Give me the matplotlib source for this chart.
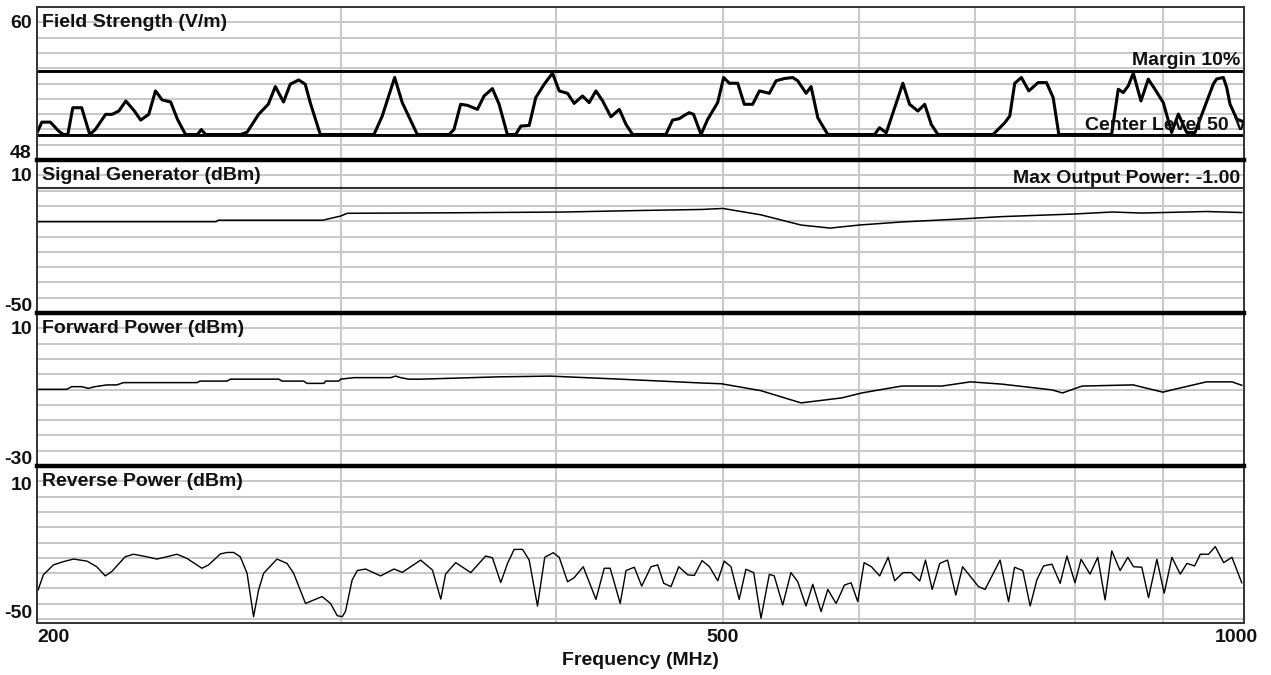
import numpy as np
import matplotlib.pyplot as plt
from matplotlib.transforms import offset_copy, blended_transform_factory

plt.rcParams['font.family'] = ['Liberation Sans', 'DejaVu Sans']
plt.rcParams['font.weight'] = 'bold'
plt.rcParams['font.size'] = 14

# ---- sweep data (frequency in MHz) ----
field_freq = [200.0, 201.3, 203.6, 205.9, 207.2, 208.4, 209.8, 212.3, 214.6, 216.2,
              219.2, 221.1, 223.1, 225.2, 227.8, 229.7, 232.2, 234.3, 236.4, 239.1,
              241.3, 243.9, 247.8, 249.1, 250.5, 262.5, 264.8, 268.9, 272.4, 275.0,
              278.0, 280.5, 283.7, 286.2, 288.1, 292.0, 313.7, 317.2, 322.5, 325.8,
              332.4, 346.8, 349.1, 352.2, 355.4, 360.2, 363.4, 367.5, 370.8, 374.9,
              379.1, 381.7, 386.0, 389.4, 393.8, 398.2, 401.8, 406.3, 409.9, 414.5,
              418.2, 422.0, 425.8, 430.5, 435.4, 439.3, 443.2, 463.3, 467.5, 471.7,
              474.9, 478.0, 480.8, 485.6, 489.9, 496.5, 500.5, 504.3, 510.0, 514.5,
              520.3, 525.0, 532.0, 536.8, 542.8, 548.9, 552.6, 558.8, 562.5, 567.6,
              575.2, 612.3, 616.4, 621.9, 635.9, 641.6, 648.8, 654.7, 660.5, 666.4,
              717.3, 728.6, 733.5, 738.4, 745.0, 752.4, 761.8, 770.4, 777.3, 783.2,
              840.4, 847.9, 853.6, 859.3, 865.1, 874.0, 882.6, 890.5, 900.5, 910.6,
              918.8, 929.1, 939.5, 962.8, 967.1, 975.8, 980.1, 984.5, 993.4, 1000.0]
field_vm = [50.13, 50.97, 50.97, 50.26, 50.0, 50.0, 52.10, 52.10, 50.0, 50.39,
            51.58, 51.58, 51.84, 52.63, 51.84, 51.13, 51.58, 53.42, 52.71, 52.55,
            51.18, 50.0, 50.0, 50.39, 50.0, 50.0, 50.18, 51.58, 52.37, 53.76,
            52.55, 53.94, 54.28, 53.94, 52.50, 50.0, 50.0, 51.45, 54.47, 52.50,
            50.0, 50.0, 50.39, 52.37, 52.29, 51.97, 53.02, 53.60, 52.37, 50.0,
            50.0, 50.66, 50.71, 52.89, 53.94, 54.81, 53.42, 53.23, 52.44, 53.02,
            52.50, 53.42, 52.63, 51.39, 51.97, 50.79, 50.0, 50.0, 51.13, 51.24,
            51.50, 51.71, 51.58, 50.0, 51.18, 52.50, 54.47, 54.02, 54.02, 52.37,
            52.37, 53.42, 53.23, 54.21, 54.39, 54.47, 54.21, 53.23, 53.76, 51.31,
            50.0, 50.0, 50.53, 50.13, 54.02, 52.37, 51.84, 52.37, 50.79, 50.0,
            50.0, 50.92, 51.45, 54.02, 54.47, 53.42, 54.07, 54.07, 52.89, 50.0,
            50.0, 53.55, 53.29, 53.81, 54.81, 52.63, 54.34, 53.55, 52.50, 50.16,
            51.60, 50.16, 50.16, 53.97, 54.36, 54.47, 53.68, 52.37, 51.21, 51.05]

siggen_freq = [200, 254, 254.8, 293, 296, 300, 302.7, 348, 404, 448, 486, 500,
               526, 555, 577, 600, 635, 688, 726, 798, 841, 875, 954, 1000]
siggen_dbm = [-14.2, -14.2, -13.6, -13.6, -12.9, -12.0, -10.9, -10.7, -10.4, -9.8,
              -9.4, -9.0, -11.5, -15.5, -16.7, -15.5, -14.3, -13.1, -12.2, -11.2,
              -10.4, -10.8, -10.2, -10.6]

fwd_freq = [200, 208.1, 209.5, 212.3, 214.2, 216.1, 219.6, 222.5, 224.5, 247.6,
            248.7, 257.8, 258.9, 276.2, 277.5, 285.6, 286.9, 293.4, 294.1, 299.3,
            300, 305.4, 320.8, 322.9, 325.1, 328.7, 333.9, 370, 397, 436, 486, 499,
            526, 555, 586, 602, 618, 635, 670, 696, 726, 776, 787, 808, 865, 900,
            911, 954, 987, 1000]
fwd_dbm = [-9.95, -9.95, -9.26, -9.26, -9.7, -9.26, -8.8, -8.8, -8.2, -8.2,
           -7.8, -7.8, -7.3, -7.3, -7.8, -7.8, -8.4, -8.4, -7.8, -7.8,
           -7.3, -6.9, -6.9, -6.5, -6.9, -7.3, -7.3, -6.7, -6.5, -7.3, -8.3, -8.5,
           -10.3, -13.5, -12.2, -10.9, -10.0, -9.1, -9.1, -8.0, -8.6, -10.1, -10.9,
           -9.1, -8.8, -10.7, -10.1, -8.0, -8.0, -8.9]

rev_freq = [200.3, 201.7, 204.4, 207.2, 210.0, 213.8, 216.6, 219.1, 221.0, 225.0,
            227.5, 231.6, 234.7, 237.9, 241.1, 244.3, 249.3, 251.5, 255.5, 257.8,
            260.1, 262.4, 264.8, 267.1, 268.9, 270.7, 275.6, 279.3, 281.8, 286.3,
            292.7, 296.0, 298.7, 300.7, 302.0, 304.7, 306.8, 310.2, 316.5, 322.2,
            325.8, 333.9, 339.2, 343.0, 345.2, 349.9, 357.0, 364.2, 367.5, 371.6,
            375.0, 378.3, 382.6, 386.0, 390.3, 394.1, 398.6, 401.8, 406.3, 409.9,
            414.9, 422.0, 426.7, 430.1, 435.9, 439.3, 444.2, 448.6, 454.2, 458.3,
            462.0, 466.5, 471.4, 477.1, 481.3, 486.3, 491.1, 496.6, 500.9, 505.4,
            511.0, 515.6, 521.0, 526.1, 532.0, 535.5, 541.6, 547.6, 552.6, 558.7,
            563.8, 570.1, 575.2, 581.6, 585.5, 588.1, 593.4, 598.7, 603.8, 609.7,
            616.5, 623.5, 629.0, 636.1, 643.2, 650.4, 655.4, 661.3, 668.0, 675.0,
            682.5, 688.7, 703.5, 709.7, 724.1, 732.3, 738.2, 746.4, 753.8, 760.5,
            767.4, 776.0, 784.6, 791.7, 800.3, 806.8, 816.5, 825.0, 833.1, 840.6,
            850.0, 858.8, 865.4, 875.0, 882.9, 892.8, 901.6, 910.9, 921.1, 929.4,
            939.0, 946.1, 956.7, 965.2, 976.1, 987.0, 1000.0]
rev_dbm = [-38.6, -32.7, -28.8, -27.5, -26.5, -27.3, -29.5, -33.1, -31.4, -25.6,
           -24.6, -25.6, -26.5, -25.6, -24.6, -26.2, -30.1, -28.8, -24.5, -23.9,
           -23.9, -25.6, -32.1, -49.1, -38.6, -32.1, -26.5, -28.2, -32.1, -43.9,
           -41.2, -43.9, -48.7, -49.1, -47.0, -34.7, -31.0, -30.4, -33.1, -30.4,
           -31.7, -26.9, -30.8, -42.2, -32.4, -27.9, -31.8, -25.3, -26.0, -35.7,
           -28.2, -22.7, -22.7, -26.9, -44.9, -25.8, -24.0, -25.8, -35.4, -33.8,
           -29.5, -42.3, -30.1, -30.1, -43.9, -31.0, -29.7, -37.1, -29.5, -28.8,
           -36.0, -37.3, -29.5, -32.7, -32.9, -27.1, -29.5, -35.0, -27.3, -29.5,
           -42.3, -30.5, -31.8, -49.7, -32.5, -33.1, -44.5, -31.8, -35.4, -44.9,
           -36.4, -47.1, -38.4, -43.9, -39.7, -36.7, -35.8, -43.2, -27.9, -29.5,
           -33.1, -25.8, -35.0, -31.8, -31.8, -35.1, -26.9, -38.4, -28.2, -26.9,
           -40.6, -29.5, -37.3, -38.4, -26.9, -43.2, -29.7, -31.0, -44.9, -34.7,
           -29.2, -28.5, -36.0, -25.3, -35.8, -26.6, -32.4, -25.8, -42.5, -23.3,
           -31.0, -25.8, -29.5, -29.7, -41.6, -26.6, -39.9, -25.8, -32.4, -28.2,
           -29.2, -24.6, -24.6, -21.6, -27.9, -25.8, -35.8]

center_level = 50.0
margin_level = 55.0
max_output = -1.00

W, H = 1271, 675
LEFT, RIGHT = 37, 1244
GRID = '#c8c8c8'
FRAME = '#333333'
TXT = '#111111'

fig = plt.figure(figsize=(W / 100, H / 100), dpi=100)

# (title, low, high, top px, bottom px, top label, bottom label)
panels = [
    ('Field Strength (V/m)', 48, 60, 7, 160, '60', '48'),
    ('Signal Generator (dBm)', -50, 10, 160, 313, '10', '-50'),
    ('Forward Power (dBm)', -30, 10, 313, 466, '10', '-30'),
    ('Reverse Power (dBm)', -50, 10, 466, 623, '10', '-50'),
]

axes = []
for i, (title, lo, hi, top, bot, tlab, blab) in enumerate(panels):
    ax = fig.add_axes([LEFT / W, 1 - bot / H, (RIGHT - LEFT) / W, (bot - top) / H])
    ax.set_xscale('log')
    ax.set_xlim(200, 1003)
    if i == 3:
        ax.set_ylim(lo - 4 / 153 * (hi - lo), hi)
    else:
        ax.set_ylim(lo, hi)
    ax.set_yticks(np.linspace(lo, hi, 11))
    ax.set_xticks([300, 400, 500, 600, 700, 800, 900])
    ax.xaxis.set_minor_locator(plt.NullLocator())
    ax.tick_params(length=0, labelleft=False, labelbottom=False)
    ax.grid(True, color=GRID, lw=1.4)
    ax.set_axisbelow(True)
    for s in ax.spines.values():
        s.set_color(FRAME)
        s.set_linewidth(1.4)
    if i > 0:
        ax.spines['top'].set_color('black')
        ax.spines['top'].set_linewidth(3.2)
    if i < 3:
        ax.spines['bottom'].set_visible(False)

    ax.text(0, 1, title, ha='left', va='baseline', color=TXT,
            transform=offset_copy(ax.transAxes, fig=fig, x=5, y=-20, units='dots'))
    ax.text(0, 1, tlab, ha='right', va='baseline', color=TXT,
            transform=offset_copy(ax.transAxes, fig=fig, x=-5,
                                  y=-24 if i == 3 else -21, units='dots'))
    if i == 3:
        btrans = offset_copy(blended_transform_factory(ax.transAxes, ax.transData),
                             fig=fig, x=-5, y=1, units='dots')
        ax.text(0, lo, blab, ha='right', va='baseline', color=TXT, transform=btrans)
    else:
        ax.text(0, 0, blab, ha='right', va='baseline', color=TXT,
                transform=offset_copy(ax.transAxes, fig=fig, x=-5, y=2, units='dots'))
    axes.append(ax)

ax1, ax2, ax3, ax4 = axes

# field strength with margin and center levels
ax1.axhline(margin_level, color='black', lw=2.1)
ax1.axhline(center_level, color='black', lw=2.1)
ax1.plot(field_freq, field_vm, color='black', lw=2.2, solid_joinstyle='round')
right_lbl = blended_transform_factory(ax1.transAxes, ax1.transData)
ax1.text(1, margin_level, 'Margin 10%', ha='right', va='baseline', color=TXT,
         transform=offset_copy(right_lbl, fig=fig, x=-4, y=6, units='dots'))
ax1.text(1, center_level, 'Center Level 50 V', ha='right', va='baseline', color=TXT,
         transform=offset_copy(right_lbl, fig=fig, x=3, y=5, units='dots'), clip_on=True)

# signal generator with max output power
ax2.axhline(max_output, color='#333333', lw=1.5)
ax2.plot(siggen_freq, siggen_dbm, color='black', lw=1.1)
ax2.text(1, max_output, 'Max Output Power: -1.00', ha='right', va='baseline',
         color=TXT,
         transform=offset_copy(blended_transform_factory(ax2.transAxes, ax2.transData),
                               fig=fig, x=-4, y=5, units='dots'))

ax3.plot(fwd_freq, fwd_dbm, color='black', lw=1.1)
ax4.plot(rev_freq, rev_dbm, color='black', lw=1.0)

# frequency labels under the bottom panel
xlab = offset_copy(blended_transform_factory(ax4.transData, ax4.transAxes),
                   fig=fig, x=0, y=-19, units='dots')
ax4.text(200, 0, '200', ha='left', va='baseline', color=TXT, transform=xlab)
ax4.text(500, 0, '500', ha='center', va='baseline', color=TXT, transform=xlab)
ax4.text(1000, 0, '1000', ha='center', va='baseline', color=TXT,
         transform=offset_copy(xlab, fig=fig, x=-5, y=0, units='dots'))
fig.text(640 / W, 1 - 665 / H, 'Frequency (MHz)', ha='center', va='baseline', color=TXT)

fig.savefig('out.png', dpi=100)
